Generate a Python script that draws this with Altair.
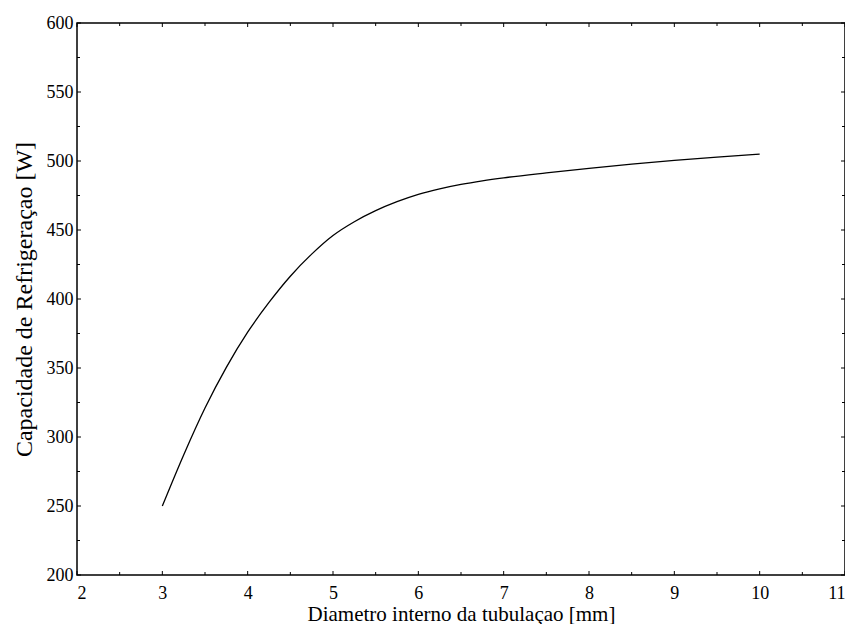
import altair as alt
import pandas as pd

# Curve data
diam = [3, 3.25, 3.5, 3.75, 4, 4.25, 4.5, 4.75, 5, 5.25, 5.5, 5.75, 6,
        6.25, 6.5, 6.75, 7, 7.5, 8, 8.5, 9, 9.5, 10]
cap = [250, 287, 321, 350.5, 376, 397.5, 416.5, 432.5, 446, 456, 464, 470.5, 475.8,
       479.8, 483, 485.6, 487.8, 491.4, 494.7, 497.7, 500.4, 502.8, 505]

# Tick values
x_major = [2, 3, 4, 5, 6, 7, 8, 9, 10, 11]
x_minor = [2.5, 3.5, 4.5, 5.5, 6.5, 7.5, 8.5, 9.5, 10.5]
y_major = [200, 250, 300, 350, 400, 450, 500, 550, 600]
y_minor = [225, 275, 325, 375, 425, 475, 525, 575]

W, H = 768, 552
FONT = "Liberation Serif"

xs = alt.Scale(domain=[2, 11], nice=False, zero=False)
ys = alt.Scale(domain=[200, 600], nice=False, zero=False)

x_axis = alt.Axis(values=x_major, title="Diametro interno da tubulaçao [mm]",
                  labelPadding=9, format="d", labelFont=FONT, labelFontSize=18,
                  titleFont=FONT, titleFontSize=21,
                  titleX=W / 2, titleY=45, titleBaseline="alphabetic", titleAlign="center")
y_axis = alt.Axis(values=y_major, title="Capacidade de Refrigeraçao [W]",
                  labelPadding=4, format="d", labelFont=FONT, labelFontSize=18,
                  titleFont=FONT, titleFontSize=24,
                  titleX=-46, titleY=H / 2, titleAngle=270,
                  titleBaseline="alphabetic", titleAlign="center")

df = pd.DataFrame({"d": diam, "c": cap})

line = alt.Chart(df).mark_line(color="black", strokeWidth=1.3, interpolate="monotone").encode(
    x=alt.X("d:Q", scale=xs, axis=x_axis),
    y=alt.Y("c:Q", scale=ys, axis=y_axis),
)

xmaj = pd.DataFrame({"t": x_major})
xmin = pd.DataFrame({"t": x_minor})
ymaj = pd.DataFrame({"t": y_major})
ymin = pd.DataFrame({"t": y_minor})

def xticks(data, y0, y1):
    return alt.Chart(data).mark_rule(color="black", strokeWidth=1).encode(
        x=alt.X("t:Q", scale=xs, axis=x_axis), y=alt.value(y0), y2=alt.value(y1))

def yticks(data, x0, x1):
    return alt.Chart(data).mark_rule(color="black", strokeWidth=1).encode(
        y=alt.Y("t:Q", scale=ys, axis=y_axis), x=alt.value(x0), x2=alt.value(x1))

layers = [
    line,
    xticks(xmaj, H, H - 4), xticks(xmin, H, H - 3),
    xticks(xmaj, 0, 4), xticks(xmin, 0, 3),
    yticks(ymaj, 0, 4), yticks(ymin, 0, 3),
    yticks(ymaj, W, W - 4), yticks(ymin, W, W - 3),
]

chart = alt.layer(*layers).properties(
    width=W, height=H,
    autosize=alt.AutoSizeParams(type="none"),
    padding={"left": 69, "top": 15, "right": 0, "bottom": 49},
).configure_view(
    stroke="black", strokeWidth=1.5
).configure_axis(
    grid=False, ticks=False, domain=False,
    labelFont=FONT, labelFontSize=18, labelColor="black",
    titleFont=FONT, titleFontWeight="normal", titleColor="black",
)

chart.save("out.html", embed_options={"renderer": "svg", "actions": False})
